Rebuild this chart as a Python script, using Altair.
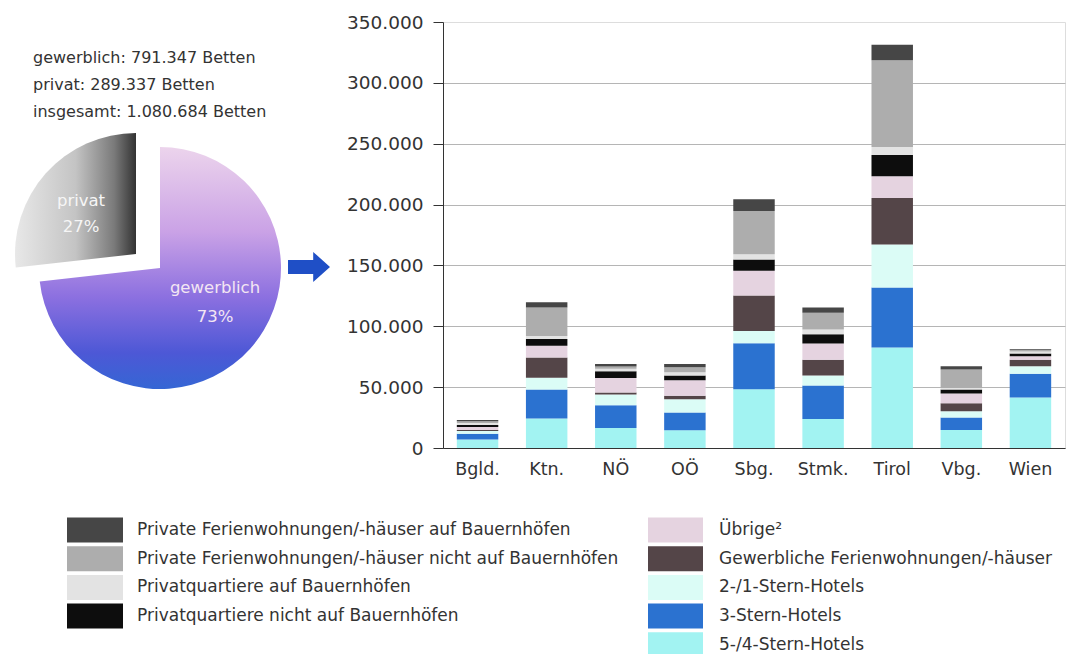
import math
import altair as alt
import pandas as pd

FONT = "DejaVu Sans"

# Federal states (x axis)
regions = ["Bgld.", "Ktn.", "NÖ", "OÖ", "Sbg.", "Stmk.", "Tirol", "Vbg.", "Wien"]

# Accommodation categories, stacked from the bottom upwards
categories = [
    "5-/4-Stern-Hotels",
    "3-Stern-Hotels",
    "2-/1-Stern-Hotels",
    "Gewerbliche Ferienwohnungen/-häuser",
    "Übrige²",
    "Privatquartiere nicht auf Bauernhöfen",
    "Privatquartiere auf Bauernhöfen",
    "Private Ferienwohnungen/-häuser nicht auf Bauernhöfen",
    "Private Ferienwohnungen/-häuser auf Bauernhöfen",
]
colors = ["#a2f3f2", "#2b72d0", "#dbfcf6", "#544548", "#e5d3e0",
          "#0d0d0d", "#e3e3e3", "#adadad", "#464646"]

# Beds per state and category
hotels_5_4 = [6900, 24200, 16400, 14500, 48200, 23800, 82500, 14800, 41400]
hotels_3 = [4900, 23800, 18700, 14600, 37800, 27500, 49300, 10200, 19700]
hotels_2_1 = [2200, 9800, 8800, 10900, 10100, 8200, 35300, 5100, 6000]
gew_fewo = [800, 16500, 1600, 3000, 29100, 13100, 38300, 6600, 5500]
uebrige = [2500, 9800, 12000, 12600, 20500, 13200, 17800, 8000, 2700]
pq_nicht_bh = [1600, 5500, 5500, 3900, 9100, 7600, 17500, 3300, 2300]
pq_bh = [1600, 2400, 2200, 2700, 4300, 3900, 6600, 1200, 1600]
pfw_nicht_bh = [1400, 23400, 1700, 4100, 35600, 13900, 71200, 15300, 1600]
pfw_bh = [1100, 4300, 2100, 2700, 9600, 4200, 12900, 2600, 600]

series = [hotels_5_4, hotels_3, hotels_2_1, gew_fewo, uebrige,
          pq_nicht_bh, pq_bh, pfw_nicht_bh, pfw_bh]

# Pie: commercial vs. private beds
pie_parts = ["gewerblich", "privat"]
pie_beds = [791347, 289337]

y_ticks = [0, 50000, 100000, 150000, 200000, 250000, 300000, 350000]


def de_num(v):
    return f"{v:,}".replace(",", ".")


# ---------- stacked bars ----------
rows = []
for ci, (cat, vals) in enumerate(zip(categories, series)):
    for reg, v in zip(regions, vals):
        rows.append({"region": reg, "category": cat, "beds": v, "stack": ci})
bars_df = pd.DataFrame(rows)

color_scale = alt.Scale(domain=categories, range=colors)

bars = alt.Chart(bars_df).mark_bar().encode(
    x=alt.X("region:N", sort=regions,
            scale=alt.Scale(paddingInner=0.4, paddingOuter=0.2),
            axis=alt.Axis(title=None, labelAngle=0, ticks=False, tickSize=0,
                          labelPadding=12, labelFontSize=17.5, labelColor="#333",
                          domainColor="#333", domainWidth=1.2, grid=False)),
    y=alt.Y("beds:Q", stack="zero",
            scale=alt.Scale(domain=[0, 350000], nice=False),
            axis=alt.Axis(title=None, values=y_ticks, tickSize=10, tickColor="#333",
                          domainColor="#333", labelFontSize=18.5, labelColor="#333",
                          labelPadding=10, gridColor="#b5b5b5", gridWidth=1,
                          gridOpacity={"condition": {"test": "datum.value >= 350000", "value": 0},
                                       "value": 1},
                          labelExpr="replace(format(datum.value, ',d'), ',', '.')")),
    color=alt.Color("category:N", scale=color_scale, legend=None),
    order=alt.Order("stack:Q", sort="ascending"),
)

# ---------- pie ----------
total = sum(pie_beds)
starts = [0, pie_beds[0]]
pie_df = pd.DataFrame({
    "part": pie_parts,
    "beds": pie_beds,
    "start": starts,
    "end": [s + b for s, b in zip(starts, pie_beds)],
    "label": [f"{p}\n{round(100 * b / total)}%" for p, b in zip(pie_parts, pie_beds)],
})

theta_scale = alt.Scale(domain=[0, total], range=[0, 2 * math.pi])

grad_gew = alt.LinearGradient(
    gradient="linear", x1=0, y1=0, x2=0, y2=1,
    stops=[alt.GradientStop(offset=0, color="#ecd4ec"),
           alt.GradientStop(offset=0.35, color="#caa2e6"),
           alt.GradientStop(offset=0.62, color="#8c70e0"),
           alt.GradientStop(offset=0.85, color="#4d58d6"),
           alt.GradientStop(offset=1, color="#3566d4")])
grad_priv = alt.LinearGradient(
    gradient="linear", x1=0, y1=0, x2=1, y2=0,
    stops=[alt.GradientStop(offset=0, color="#e8e8e8"),
           alt.GradientStop(offset=0.5, color="#c4c4c4"),
           alt.GradientStop(offset=0.82, color="#7a7a7a"),
           alt.GradientStop(offset=1, color="#333333")])

pie_gew = alt.Chart(pie_df).transform_filter(alt.datum.part == "gewerblich").mark_arc(
    radius=121, fill=grad_gew).encode(
    theta=alt.Theta("start:Q", scale=theta_scale), theta2="end:Q",
    x=alt.value(-283), y=alt.value(246))

pie_priv = alt.Chart(pie_df).transform_filter(alt.datum.part == "privat").mark_arc(
    radius=121, fill=grad_priv).encode(
    theta=alt.Theta("start:Q", scale=theta_scale), theta2="end:Q",
    x=alt.value(-307), y=alt.value(232))

lbl_gew = alt.Chart(pie_df).transform_filter(alt.datum.part == "gewerblich").mark_text(
    font=FONT, fontSize=16.5, color="#f3e6f3", align="center", baseline="alphabetic",
    lineBreak="\n", lineHeight=29).encode(
    text="label:N", x=alt.value(-228), y=alt.value(271))

lbl_priv = alt.Chart(pie_df).transform_filter(alt.datum.part == "privat").mark_text(
    font=FONT, fontSize=16.5, color="#f6f6f6", align="center", baseline="alphabetic",
    lineBreak="\n", lineHeight=26).encode(
    text="label:N", x=alt.value(-362), y=alt.value(184))

summary = "\n".join([f"gewerblich: {de_num(pie_beds[0])} Betten",
                     f"privat: {de_num(pie_beds[1])} Betten",
                     f"insgesamt: {de_num(total)} Betten"])
top_text = alt.Chart(pd.DataFrame({"t": [summary]})).mark_text(
    font=FONT, fontSize=16, color="#333", align="left", baseline="alphabetic",
    lineBreak="\n", lineHeight=27).encode(
    text="t:N", x=alt.value(-410), y=alt.value(41))

# arrow from pie to bars
arrow = alt.Chart(pd.DataFrame({"a": [1]})).mark_point(
    shape="M-1,-0.33L0.2,-0.33L0.2,-0.72L1,0L0.2,0.72L0.2,0.33L-1,0.33Z",
    filled=True, opacity=1, size=1764, color="#1f4fc6", strokeWidth=0).encode(
    x=alt.value(-134), y=alt.value(245))

# ---------- legend ----------
leg_rows = []
for ci, cat in enumerate(categories):
    if ci >= 5:
        side, row = "left", 8 - ci
    else:
        side, row = "right", 4 - ci
    leg_rows.append({"category": cat, "side": side, "row": row})
leg_df = pd.DataFrame(leg_rows)


def legend_column(side, x0, x1, xt):
    base = alt.Chart(leg_df).transform_filter(alt.datum.side == side).transform_calculate(
        py="508 + datum.row * 28.7", y0="datum.py - 12.5", y1="datum.py + 12.5")
    sw = base.mark_rect().encode(
        x=alt.value(x0), x2=alt.value(x1),
        y=alt.Y("y0:Q", scale=None, axis=None), y2="y1:Q",
        color=alt.Color("category:N", scale=color_scale, legend=None))
    tx = base.mark_text(font=FONT, fontSize=17, color="#333", align="left",
                        baseline="middle").encode(
        x=alt.value(xt), y=alt.Y("py:Q", scale=None, axis=None), text="category:N")
    return [sw, tx]


legend_layers = legend_column("left", -376, -320, -306) + legend_column("right", 205, 260, 276)

chart = alt.layer(
    bars, pie_gew, pie_priv, lbl_gew, lbl_priv, top_text, arrow, *legend_layers
).resolve_scale(y="independent").properties(
    width=622, height=426,
    padding={"left": 443, "top": 22, "right": 3, "bottom": 206},
    autosize=alt.AutoSizeParams(type="none"),
    background="white",
).configure_view(stroke=None).configure(font=FONT)

chart.save("out.html", embed_options={"renderer": "svg", "actions": False})
